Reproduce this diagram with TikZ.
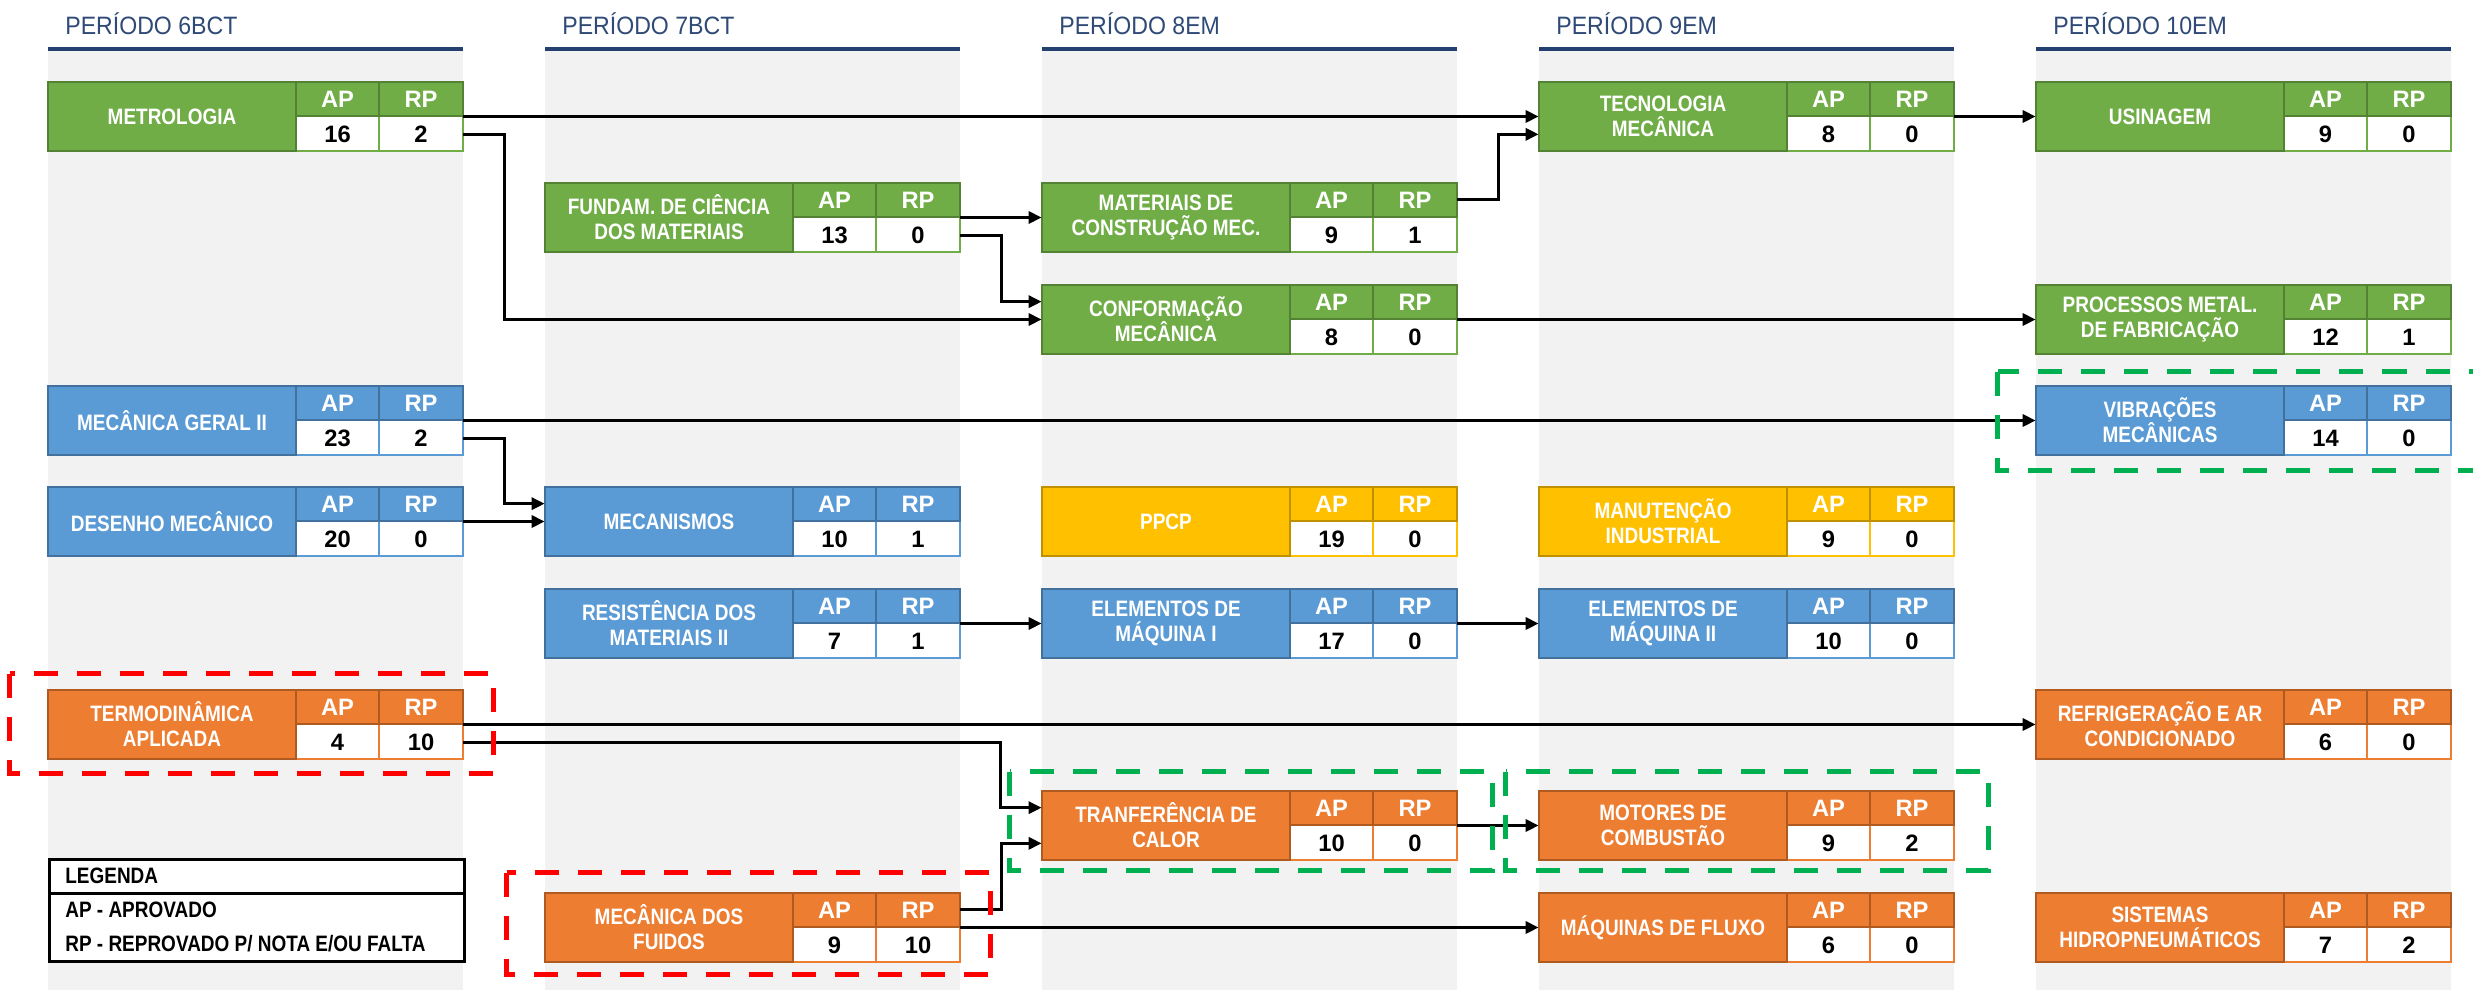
\documentclass[tikz,border=0pt]{standalone}
\usepackage{fontspec}
\setmainfont{Liberation Sans}
\newfontfamily\condfont{Liberation Sans}[FakeStretch=0.85]
\newfontfamily\hdrfont{Liberation Sans}[FakeStretch=0.92]
\usetikzlibrary{arrows.meta}

\definecolor{grn}{HTML}{70AD47}\definecolor{grnD}{HTML}{548235}
\definecolor{blu}{HTML}{5B9BD5}\definecolor{bluD}{HTML}{41719C}
\definecolor{yel}{HTML}{FFC000}\definecolor{yelD}{HTML}{BF9000}
\definecolor{org}{HTML}{ED7D31}\definecolor{orgD}{HTML}{AE5A21}
\definecolor{band}{HTML}{F2F2F2}
\definecolor{navy}{HTML}{2F4A76}
\definecolor{navyline}{HTML}{24406E}
\definecolor{redmark}{HTML}{FF0000}
\definecolor{grnmark}{HTML}{00B050}

% one discipline: node name, left, top, colour, title, AP, RP
\newcommand\disc[7]{%
  \node[discbox] (#1) at (#2+207.5,#3+34.5) {};
  \filldraw[fill=white,draw=#4,cell] (#2+248,#3+34) rectangle ++(83,35)
                                     (#2+331,#3+34) rectangle ++(84,35);
  \filldraw[fill=#4,draw=#4D,cell] (#2,#3) rectangle ++(248,69);
  \filldraw[fill=#4,draw=#4D,cell] (#2+248,#3) rectangle ++(83,34)
                                   (#2+331,#3) rectangle ++(84,34);
  \node[titletxt] (#1-t) at (#2+124,#3+34.5) {#5};
  \node[headtxt] (#1-ap) at (#2+289.5,#3+17) {AP};
  \node[headtxt] (#1-rp) at (#2+373,#3+17) {RP};
  \node[valtxt] (#1-apv) at (#2+289.5,#3+52) {#6};
  \node[valtxt] (#1-rpv) at (#2+373,#3+52) {#7};
}

\begin{document}
\begin{tikzpicture}[x=0.2mm,y=-0.2mm,
    discbox/.style={rectangle,inner sep=0pt,minimum width=83mm,minimum height=13.8mm},
    cell/.style={line width=0.5mm},
    titletxt/.style={text=white,align=center,inner sep=0pt,
      font=\condfont\bfseries\fontsize{12.7}{14.2}\selectfont},
    headtxt/.style={text=white,inner sep=0pt,font=\bfseries\fontsize{13.5}{15}\selectfont},
    valtxt/.style={text=black,inner sep=0pt,font=\bfseries\fontsize{13.5}{15}\selectfont},
    hdr/.style={text=navy,inner sep=0pt,font=\hdrfont\fontsize{14.3}{16}\selectfont},
    legtxt/.style={inner sep=0pt,font=\condfont\bfseries\fontsize{12.7}{14}\selectfont},
    conn/.style={line width=0.6mm,-{Triangle[length=2.6mm,width=2.4mm]}},
    redbx/.style={redmark,line width=1mm,dash pattern=on 4.8mm off 3.8mm},
    grnbx/.style={grnmark,line width=1mm,dash pattern=on 4.8mm off 3.8mm}]
  \useasboundingbox (0,0) rectangle (2473,990);
  %
  \foreach \i/\t in {0/6BCT,1/7BCT,2/8EM,3/9EM,4/10EM}
     {\fill[band] (48+497*\i,49) rectangle ++(415,941);
      \draw[navyline,line width=0.8mm] (48+497*\i,49) -- ++(415,0);
      \node[hdr,anchor=base west] (hdr\i) at (65+497*\i,35) {PERÍODO \t};}
  %
  \disc{metro}{48}{82}{grn}{METROLOGIA}{16}{2}
  \disc{tecno}{1539}{82}{grn}{TECNOLOGIA\\MECÂNICA}{8}{0}
  \disc{usin}{2036}{82}{grn}{USINAGEM}{9}{0}
  \disc{fundam}{545}{183}{grn}{FUNDAM. DE CIÊNCIA\\DOS MATERIAIS}{13}{0}
  \disc{matcon}{1042}{183}{grn}{MATERIAIS DE\\CONSTRUÇÃO MEC.}{9}{1}
  \disc{conform}{1042}{285}{grn}{CONFORMAÇÃO\\MECÂNICA}{8}{0}
  \disc{procmet}{2036}{285}{grn}{PROCESSOS METAL.\\DE FABRICAÇÃO}{12}{1}
  \disc{mecger}{48}{386}{blu}{MECÂNICA GERAL II}{23}{2}
  \disc{vibra}{2036}{386}{blu}{VIBRAÇÕES\\MECÂNICAS}{14}{0}
  \disc{desenho}{48}{487}{blu}{DESENHO MECÂNICO}{20}{0}
  \disc{mecan}{545}{487}{blu}{MECANISMOS}{10}{1}
  \disc{ppcp}{1042}{487}{yel}{PPCP}{19}{0}
  \disc{manut}{1539}{487}{yel}{MANUTENÇÃO\\INDUSTRIAL}{9}{0}
  \disc{resmat}{545}{589}{blu}{RESISTÊNCIA DOS\\MATERIAIS II}{7}{1}
  \disc{elemA}{1042}{589}{blu}{ELEMENTOS DE\\MÁQUINA I}{17}{0}
  \disc{elemB}{1539}{589}{blu}{ELEMENTOS DE\\MÁQUINA II}{10}{0}
  \disc{termo}{48}{690}{org}{TERMODINÂMICA\\APLICADA}{4}{10}
  \disc{refrig}{2036}{690}{org}{REFRIGERAÇÃO E AR\\CONDICIONADO}{6}{0}
  \disc{transf}{1042}{791}{org}{TRANFERÊNCIA DE\\CALOR}{10}{0}
  \disc{motor}{1539}{791}{org}{MOTORES DE\\COMBUSTÃO}{9}{2}
  \disc{fluid}{545}{893}{org}{MECÂNICA DOS\\FUIDOS}{9}{10}
  \disc{maqflu}{1539}{893}{org}{MÁQUINAS DE FLUXO}{6}{0}
  \disc{sishid}{2036}{893}{org}{SISTEMAS\\HIDROPNEUMÁTICOS}{7}{2}
  %
  \draw[conn] (metro.east) -- (tecno.west);
  \draw[conn] ([yshift=3.4mm]metro.south east) -- ++(8.2mm,0) |- (conform.west);
  \draw[conn] (fundam.east) -- (matcon.west);
  \draw[conn] ([yshift=3.4mm]fundam.south east) -- ++(8.2mm,0)
              |- ([yshift=-3.4mm]conform.north west);
  \draw[conn] ([yshift=-3.4mm]matcon.north east) -- ++(8.2mm,0)
              |- ([yshift=3.4mm]tecno.south west);
  \draw[conn] (tecno.east) -- (usin.west);
  \draw[conn] (conform.east) -- (procmet.west);
  \draw[conn] (mecger.east) -- (vibra.west);
  \draw[conn] ([yshift=3.4mm]mecger.south east) -- ++(8.2mm,0)
              |- ([yshift=-3.4mm]mecan.north west);
  \draw[conn] (desenho.east) -- (mecan.west);
  \draw[conn] (resmat.east) -- (elemA.west);
  \draw[conn] (elemA.east) -- (elemB.west);
  \draw[conn] (termo.east) -- (refrig.west);
  \draw[conn] ([yshift=3.4mm]termo.south east)
              -| ([xshift=-8.2mm,yshift=-3.4mm]transf.north west)
              -- ([yshift=-3.4mm]transf.north west);
  \draw[conn] ([yshift=-3.4mm]fluid.north east) -- ++(8.2mm,0)
              |- ([yshift=3.4mm]transf.south west);
  \draw[conn] (fluid.east) -- (maqflu.west);
  \draw[conn] (transf.east) -- (motor.west);
  %
  \node[draw,line width=0.6mm,fill=white,inner sep=0pt,minimum width=83mm,
        minimum height=20.4mm,anchor=north west] (legenda) at (48,858) {};
  \draw[line width=0.6mm] ([yshift=-7mm]legenda.north west) -- ([yshift=-7mm]legenda.north east);
  \node[legtxt,anchor=base west] (leg1) at (65,883) {LEGENDA};
  \node[legtxt,anchor=base west] (leg2) at (65,917) {AP - APROVADO};
  \node[legtxt,anchor=base west] (leg3) at (65,951) {RP - REPROVADO P/ NOTA E/OU FALTA};
  %
  \draw[redbx] ([xshift=-7.6mm,yshift=3.2mm]termo.north west)
               rectangle ([xshift=6mm,yshift=-2.8mm]termo.south east);
  \draw[redbx] ([xshift=-7.6mm,yshift=4mm]fluid.north west)
               rectangle ([xshift=6mm,yshift=-2.4mm]fluid.south east);
  \draw[grnbx] ([xshift=-6.4mm,yshift=3.8mm]transf.north west)
               rectangle ([xshift=7mm,yshift=-2mm]transf.south east);
  \draw[grnbx] ([xshift=-6.6mm,yshift=3.8mm]motor.north west)
               rectangle ([xshift=6.8mm,yshift=-2mm]motor.south east);
  \draw[grnbx] ([xshift=-7.6mm,yshift=2.8mm]vibra.north west)
               rectangle ([xshift=7.8mm,yshift=-3mm]vibra.south east);
\end{tikzpicture}
\end{document}
